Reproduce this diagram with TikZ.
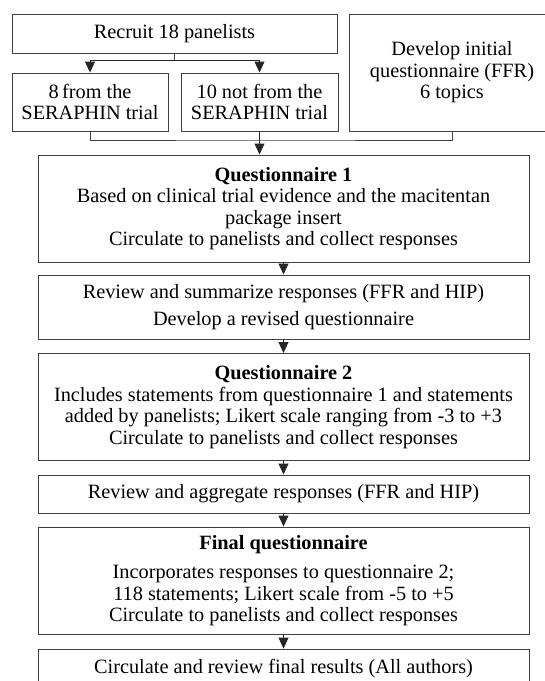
\documentclass[tikz,border=0pt]{standalone}
\usepackage{fontspec}
\setmainfont{Liberation Serif}
\usetikzlibrary{arrows.meta}
\usetikzlibrary{positioning}
\tikzset{
  box/.style={rectangle, draw=black!75, line width=0.9pt, align=center, inner sep=0pt,
    font=\fontsize{20.3}{21.5}\selectfont},
  arrow/.style={draw=black!85, line width=0.9pt, -{Triangle[length=11pt, width=10pt]}},
  line/.style={draw=black!75, line width=0.9pt}
  }

\begin{document}
\begin{tikzpicture}[x=1pt, y=-1pt]
	\useasboundingbox (0,0) rectangle (545,681);

	% Top row
	\node[box, minimum width=325pt, minimum height=39pt] (recruit) at (174.5,33.5) {Recruit 18 panelists};
	\node[box, minimum width=206pt, minimum height=117pt] (develop) at (452,72.5) {Develop initial\\questionnaire (FFR)\\6 topics};
	\node[box, minimum width=156pt, minimum height=58pt] (from8) at (90,102) {8\,from the\\SERAPHIN trial};
	\node[box, minimum width=157pt, minimum height=58pt] (not10) at (259.5,102) {10 not from the\\SERAPHIN trial};

	% Main steps
	\node[box, minimum width=491pt, minimum height=107pt] (q1) at (283.5,208.5) {\textbf{Questionnaire 1}\\Based on clinical trial evidence and the macitentan\\package insert\\Circulate to panelists and collect responses};
	\node[box, minimum width=491pt, minimum height=64pt] (review1) at (283.5,307) {Review and summarize responses (FFR and HIP)\\[5pt]Develop a revised questionnaire};
	\node[box, minimum width=491pt, minimum height=107pt] (q2) at (283.5,407) {\textbf{Questionnaire 2}\\Includes statements from questionnaire 1 and statements\\added by panelists; Likert scale ranging from -3 to +3\\Circulate to panelists and collect responses};
	\node[box, minimum width=491pt, minimum height=38pt] (review2) at (283.5,494) {Review and aggregate responses (FFR and HIP)};
	\node[box, minimum width=491pt, minimum height=107pt] (final) at (283.5,580.5) {\textbf{Final questionnaire}\\[8pt]Incorporates responses to questionnaire 2;\\118 statements; Likert scale from -5 to +5\\Circulate to panelists and collect responses};
	\node[box, minimum width=491pt, minimum height=39pt] (results) at (283.5,668.5) {Circulate and review final results (All authors)};

	% Arrows
	\draw [line] (recruit.south) -- ++(0,7) coordinate (split);
	\draw [arrow] (split) -| (from8);
	\draw [arrow] (split) -| (not10);
	\coordinate (merge) at (not10.south |- 0,140);
	\draw [line] (from8.south) |- (merge) -| (develop.south);
	\draw [arrow] (not10.south) -- (not10.south |- q1.north);
	\draw [arrow] (q1) -- (review1);
	\draw [arrow] (review1) -- (q2);
	\draw [arrow] (q2) -- (review2);
	\draw [arrow] (review2) -- (final);
	\draw [arrow] (final) -- (results);

\end{tikzpicture}
\end{document}
